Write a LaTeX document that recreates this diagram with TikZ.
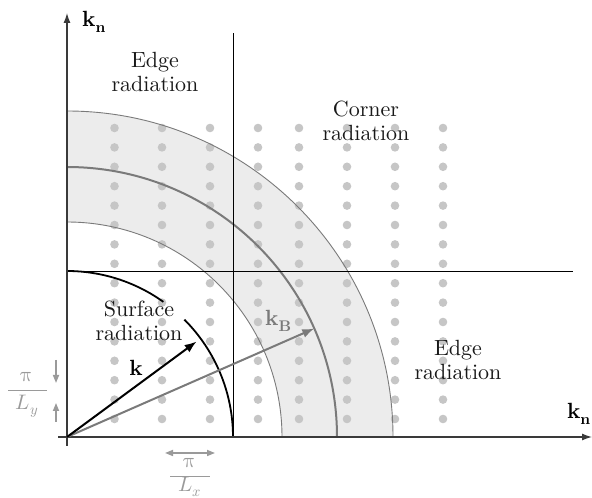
\documentclass[tikz,border=0pt]{standalone}
\usepackage{fontspec}
\usepackage{unicode-math}
\setmathfont{Latin Modern Math}
\newfontfamily\labfont{lmroman10-regular}[Extension=.otf, BoldFont=lmroman10-bold]
\usetikzlibrary{arrows.meta,calc}
\definecolor{dotgray}{HTML}{C6C6C6}
\definecolor{bandgray}{HTML}{ECECEC}
\definecolor{linegray}{HTML}{7A7A7A}
\definecolor{labgray}{HTML}{9A9A9A}
\definecolor{axisgray}{HTML}{3A3A3A}
\tikzset{
  bigtext/.style={font=\labfont\fontsize{22}{23.5}\selectfont, align=center, text=black!90, inner sep=0pt},
  klabel/.style={font=\labfont\fontsize{22}{23}\selectfont\bfseries, inner sep=0pt},
  fraclab/.style={font=\fontsize{21}{22}\selectfont, text=labgray, inner sep=0pt},
  axisline/.style={draw=axisgray, line width=1.3pt},
  sepline/.style={draw=black, line width=0.9pt},
  bandedge/.style={draw=linegray, line width=0.9pt},
  dotstyle/.style={fill=dotgray},
  markarrow/.style={draw=labgray, line width=1.6pt, -{Triangle[length=8pt,width=6pt]}},
}
\begin{document}
\begin{tikzpicture}[x=1pt,y=1pt]
\useasboundingbox (0,0) rectangle (592,498);
\coordinate (O) at (67,61);
% shaded band
\fill[bandgray] (393,61) arc[start angle=0,end angle=90,radius=326] -- (67,276) arc[start angle=90,end angle=0,radius=215] -- cycle;
% dots
\foreach \cx in {114.5,162,210,258,299,347,395,443}{
  \foreach \k in {0,...,15}{
    \fill[dotstyle] (\cx,{370-19.4*\k}) circle[radius=4.3];
  }
}
% band edges and arcs
\draw[bandedge] (393,61) arc[start angle=0,end angle=90,radius=326];
\draw[bandedge] (282,61) arc[start angle=0,end angle=90,radius=215];
\draw[draw=linegray, line width=2pt] (337,61) arc[start angle=0,end angle=90,radius=270];
\draw[black, line width=1.8pt] (233,61) arc[start angle=0,end angle=45,radius=166];
\draw[black, line width=1.8pt] ($(O)+(54.5:166)$) arc[start angle=54.5,end angle=90,radius=166];
% separator lines
\coordinate (vtop) at (233,465);
\coordinate (vbot) at (233,61);
\coordinate (hleft) at (67,227);
\coordinate (hright) at (573,227);
\draw[sepline] (vbot) -- (vtop);
\draw[sepline] (hleft) -- (hright);
% axes
\coordinate (xs) at (58,61);
\coordinate (xe) at (592,61);
\coordinate (ys) at (67,52);
\coordinate (ye) at (67,485);
\draw[axisline, -{Latex[length=10pt,width=7pt]}] (xs) -- (xe);
\draw[axisline, -{Latex[length=10pt,width=7pt]}] (ys) -- (ye);
% vectors
\coordinate (ktip) at (196.6,156.5);
\coordinate (kBtip) at (314.3,169.5);
\draw[linegray, line width=2pt, -{Latex[length=12pt,width=9pt]}] (O) -- (kBtip);
\draw[black, line width=2pt, -{Latex[length=12pt,width=9pt]}] (O) -- (ktip);
% labels
\node[klabel, anchor=base west] (kny) at (82,471) {k\textsubscript{n}};
\node[klabel, anchor=base east] (knx) at (591,79) {k\textsubscript{n}};
\node[klabel] (k) at (136,130) {k};
\node[klabel, text=linegray, anchor=west] (kB) at (265,177) {k\textsubscript{B}};
\node[bigtext] (edge1) at (155,426) {Edge\\radiation};
\node[bigtext] (corner) at (366,377) {Corner\\radiation};
\node[bigtext] (surface) at (139,177) {Surface\\radiation};
\node[bigtext] (edge2) at (458,138) {Edge\\radiation};
% pi/Ly marker
\coordinate (ya1) at (56,138);
\coordinate (ya2) at (56,115);
\coordinate (yb1) at (56,76);
\coordinate (yb2) at (56,95);
\draw[markarrow] (ya1) -- (ya2);
\draw[markarrow] (yb1) -- (yb2);
\node[fraclab] (piy) at (27,121) {$\uppi$};
\node[fraclab] (Ly) at (27,92) {$L_y$};
\coordinate (fyl) at (8,107);
\coordinate (fyr) at (47,107);
\draw[labgray, line width=1pt] (fyl) -- (fyr);
% pi/Lx marker
\coordinate (xa1) at (165,45);
\coordinate (xa2) at (215,45);
\draw[markarrow, {Triangle[length=8pt,width=6pt]}-{Triangle[length=8pt,width=6pt]}] (xa1) -- (xa2);
\node[fraclab] (pix) at (190,35) {$\uppi$};
\node[fraclab, anchor=south] (Lx) at (190,1) {$L_x$};
\coordinate (fxl) at (170,21);
\coordinate (fxr) at (210,21);
\draw[labgray, line width=1pt] (fxl) -- (fxr);
\end{tikzpicture}
\end{document}
